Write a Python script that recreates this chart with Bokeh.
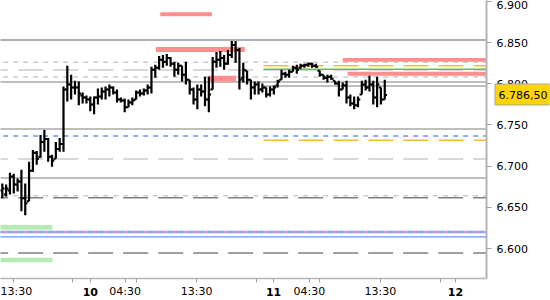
from bokeh.plotting import figure
from bokeh.models import Range1d, FixedTicker, NumeralTickFormatter, ColumnDataSource, LinearAxis
from bokeh.transform import dodge
from bokeh.embed import file_html
from bokeh.resources import INLINE

# ---------------- data ----------------
bar_idx = list(range(101))
high = [6.6790, 6.6778, 6.6922, 6.6910, 6.6850, 6.6958, 6.6790, 6.7054, 6.7198, 6.7186,
        6.7378, 6.7438, 6.7342, 6.7138, 6.7294, 6.7342, 6.7966, 6.8218, 6.8110, 6.8038,
        6.8026, 6.7894, 6.7858, 6.7846, 6.7846, 6.7942, 6.7954, 6.7966, 6.7990, 6.7966,
        6.7930, 6.7834, 6.7822, 6.7810, 6.7834, 6.7918, 6.7930, 6.7942, 6.7990, 6.8206,
        6.8230, 6.8338, 6.8350, 6.8362, 6.8326, 6.8266, 6.8254, 6.8218, 6.8266, 6.8050,
        6.7954, 6.7990, 6.7990, 6.8086, 6.8086, 6.8326, 6.8386, 6.8398, 6.8350, 6.8410,
        6.8518, 6.8518, 6.8434, 6.8254, 6.8158, 6.8050, 6.8026, 6.8026, 6.8002, 6.7954,
        6.7966, 6.7978, 6.8050, 6.8170, 6.8146, 6.8170, 6.8218, 6.8230, 6.8242, 6.8242,
        6.8254, 6.8254, 6.8242, 6.8158, 6.8110, 6.8110, 6.8110, 6.8038, 6.8038, 6.8014,
        6.8038, 6.7870, 6.7846, 6.7846, 6.8038, 6.8050, 6.8098, 6.8038, 6.8086, 6.7954,
        6.8050]
low = [6.6610, 6.6634, 6.6658, 6.6670, 6.6694, 6.6454, 6.6406, 6.6574, 6.6934, 6.7018,
       6.7102, 6.7174, 6.7054, 6.6994, 6.7090, 6.7174, 6.7174, 6.7786, 6.7810, 6.7870,
       6.7738, 6.7762, 6.7762, 6.7666, 6.7630, 6.7750, 6.7810, 6.7810, 6.7846, 6.7870,
       6.7774, 6.7774, 6.7654, 6.7714, 6.7738, 6.7810, 6.7846, 6.7858, 6.7870, 6.7882,
       6.8074, 6.8170, 6.8194, 6.8218, 6.8206, 6.8086, 6.8110, 6.8026, 6.7990, 6.7870,
       6.7750, 6.7690, 6.7846, 6.7726, 6.7654, 6.7930, 6.8194, 6.8206, 6.8170, 6.8230,
       6.8314, 6.8254, 6.7930, 6.8014, 6.7990, 6.7810, 6.7870, 6.7870, 6.7894, 6.7834,
       6.7846, 6.7870, 6.7954, 6.8050, 6.8074, 6.8074, 6.8146, 6.8122, 6.8182, 6.8194,
       6.8206, 6.8194, 6.8194, 6.8086, 6.8050, 6.8014, 6.8050, 6.7990, 6.7846, 6.7930,
       6.7762, 6.7726, 6.7690, 6.7714, 6.7870, 6.7918, 6.7906, 6.7750, 6.7714, 6.7750,
       6.7810]
opens = [6.6706, 6.6658, 6.6706, 6.6874, 6.6778, 6.6814, 6.6610, 6.6574, 6.6946, 6.7162,
         6.7114, 6.7294, 6.7330, 6.7114, 6.7090, 6.7210, 6.7270, 6.7930, 6.7990, 6.7954,
         6.7954, 6.7858, 6.7834, 6.7810, 6.7750, 6.7834, 6.7846, 6.7906, 6.7930, 6.7954,
         6.7894, 6.7810, 6.7798, 6.7714, 6.7774, 6.7810, 6.7894, 6.7882, 6.7918, 6.7954,
         6.8170, 6.8194, 6.8290, 6.8266, 6.8314, 6.8242, 6.8170, 6.8218, 6.8110, 6.8050,
         6.7930, 6.7810, 6.7930, 6.7906, 6.7810, 6.7930, 6.8266, 6.8290, 6.8314, 6.8242,
         6.8350, 6.8470, 6.8410, 6.8074, 6.8158, 6.8050, 6.7954, 6.7990, 6.7930, 6.7954,
         6.7870, 6.7930, 6.7978, 6.8050, 6.8122, 6.8110, 6.8146, 6.8194, 6.8194, 6.8218,
         6.8230, 6.8242, 6.8218, 6.8158, 6.8110, 6.8074, 6.8086, 6.8038, 6.8002, 6.7930,
         6.7978, 6.7834, 6.7762, 6.7738, 6.7870, 6.7990, 6.7954, 6.7990, 6.7834, 6.7954,
         6.7810]
closes = [6.6730, 6.6730, 6.6874, 6.6778, 6.6814, 6.6610, 6.6550, 6.6946, 6.7162, 6.7090,
          6.7294, 6.7330, 6.7114, 6.7066, 6.7210, 6.7270, 6.7930, 6.7990, 6.7954, 6.7954,
          6.7882, 6.7834, 6.7810, 6.7750, 6.7834, 6.7846, 6.7906, 6.7930, 6.7954, 6.7894,
          6.7810, 6.7798, 6.7714, 6.7774, 6.7798, 6.7894, 6.7882, 6.7918, 6.7954, 6.8170,
          6.8194, 6.8290, 6.8266, 6.8314, 6.8242, 6.8170, 6.8218, 6.8110, 6.8050, 6.7930,
          6.7810, 6.7930, 6.7906, 6.7810, 6.7870, 6.8266, 6.8290, 6.8314, 6.8242, 6.8350,
          6.8470, 6.8410, 6.8050, 6.8170, 6.8050, 6.7954, 6.7990, 6.7930, 6.7954, 6.7870,
          6.7930, 6.7954, 6.8026, 6.8122, 6.8110, 6.8146, 6.8194, 6.8170, 6.8218, 6.8230,
          6.8242, 6.8218, 6.8206, 6.8110, 6.8074, 6.8086, 6.8062, 6.8002, 6.7930, 6.7978,
          6.7834, 6.7762, 6.7738, 6.7810, 6.7990, 6.7954, 6.7990, 6.7834, 6.7990, 6.7810,
          6.7865]
last_price = 6.7865
last_price_text = "6.786,50"

# x-axis ticks (bar-index positions)
time_tick_pos = [2.82, 18.47, 32.14, 35.01, 50.80, 66.45, 80.28, 83.02, 98.85, 114.5]
time_tick_labels = ["13:30", "", "04:30", "", "13:30", "", "04:30", "", "13:30", ""]
day_tick_pos = [23.01, 70.94, 118.5]
day_tick_labels = ["10", "11", "12"]
y_ticks = [6.60, 6.65, 6.70, 6.75, 6.80, 6.85, 6.90]

# zones
pink_left = [41.3, 40.2, 53.8, 89.0, 90.3]
pink_right = [54.8, 63.4, 61.1, 140.0, 140.0]
pink_bottom = [6.8818, 6.8386, 6.8026, 6.8266, 6.8098]
pink_top = [6.8866, 6.8446, 6.8098, 6.8314, 6.8146]
green_left = [-5.0, -5.0]
green_right = [13.1, 13.1]
green_bottom = [6.6230, 6.5834]
green_top = [6.6286, 6.5890]

# levels
gray_solid_full = [6.8022, 6.7450, 6.6858]
gray_solid_top = [6.8530]
gray_solid_partial = [6.7974]
light_short_dash = [6.8262, 6.8082, 6.6642]
light_long_dash = [6.8166, 6.7086]
dark_long_dash = [6.6618, 6.5946]
blue_dash = [6.7366]
blue_solid = [6.6142]
pink_blue = [6.6202]
orange_dash = [6.8218, 6.7314]
green_solid = [6.8176]
partial_start = 68.3

X0, X1 = -0.47, 126.6
Y0, Y1 = 6.5638, 6.9010
FULL_L, FULL_R = -5.0, 140.0

p = figure(width=550, height=300, output_backend="svg", toolbar_location=None,
           x_range=Range1d(X0, X1), y_range=Range1d(Y0, Y1),
           y_axis_location="right", min_border_left=0, min_border_top=0,
           min_border_right=63, min_border_bottom=19)
p.outline_line_color = None
p.grid.visible = False
p.background_fill_color = "white"
p.border_fill_color = "white"

FONT = "DejaVu Sans"

def hlines(levels, color, width, dash="solid", start=FULL_L):
    src = ColumnDataSource(dict(y=levels, x0=[start] * len(levels), x1=[FULL_R] * len(levels)))
    p.segment(x0="x0", y0="y", x1="x1", y1="y", source=src, line_color=color,
              line_width=width, line_dash=dash)

p.quad(left=green_left, right=green_right, bottom=green_bottom, top=green_top,
       fill_color="#b5ebb3", line_color=None)

hlines(gray_solid_top, "#b0b0b0", 2)
hlines(gray_solid_full, "#a8a8a8", 1.5)
hlines(gray_solid_partial, "#a8a8a8", 1.5, start=partial_start)
hlines(light_short_dash, "#cccccc", 1.5, "5 5")
hlines(light_long_dash, "#cccccc", 1.5, "25 10")
hlines(dark_long_dash, "#808080", 1.5, "25 10")
hlines(blue_dash, "#6495ed", 1.5, "5 5")
hlines(blue_solid, "#6495ed", 1.2)
hlines(pink_blue, "#d6e6ff", 4)
hlines(pink_blue, "#6495ed", 1.5)
hlines(pink_blue, "#ff88c8", 1.5, "5 5")
hlines(orange_dash, "#ffb833", 1.5, "25 10", start=partial_start)
hlines(green_solid, "#66bb66", 1.5, start=partial_start)

p.quad(left=pink_left, right=pink_right, bottom=pink_bottom, top=pink_top,
       fill_color="#ff8f8f", line_color=None)

# OHLC bars
src = ColumnDataSource(dict(idx=bar_idx, high=high, low=low, open=opens, close=closes))
p.segment(x0="idx", y0="low", x1="idx", y1="high", source=src, line_color="black", line_width=2.2)
p.segment(x0=dodge("idx", -0.6), y0="open", x1="idx", y1="open", source=src,
          line_color="black", line_width=2)
p.segment(x0="idx", y0="close", x1=dodge("idx", 0.6), y1="close", source=src,
          line_color="black", line_width=2)

# axes
ya = p.yaxis[0]
ya.ticker = FixedTicker(ticks=y_ticks)
ya.formatter = NumeralTickFormatter(format="0.000")
ya.axis_line_color = "#b4b4b4"
ya.axis_line_width = 2
ya.major_tick_line_color = "#a0a0a0"
ya.major_tick_out = 5
ya.major_tick_in = 0
ya.minor_tick_line_color = None
ya.major_label_standoff = 5
ya.major_label_text_font = FONT
ya.major_label_text_font_size = "11px"
ya.major_label_text_color = "black"

xa = p.xaxis[0]
all_pos = time_tick_pos + day_tick_pos
xa.ticker = FixedTicker(ticks=all_pos)
xa.major_label_overrides = {**{pos: lab for pos, lab in zip(time_tick_pos, time_tick_labels)},
                            **{pos: "" for pos in day_tick_pos}}
xa.axis_line_color = "#b4b4b4"
xa.axis_line_width = 1.5
xa.major_tick_line_color = "#a0a0a0"
xa.major_tick_out = 4
xa.major_tick_in = 0
xa.minor_tick_line_color = None
xa.major_label_standoff = 2
xa.major_label_text_font = FONT
xa.major_label_text_font_size = "11px"
xa.major_label_text_color = "black"

# bold day labels: a second bottom axis whose labels are pulled up into the first row
day_axis = LinearAxis(ticker=FixedTicker(ticks=day_tick_pos),
                      major_label_overrides={pos: lab for pos, lab in zip(day_tick_pos, day_tick_labels)},
                      axis_line_color=None, major_tick_line_color=None, minor_tick_line_color=None,
                      major_tick_out=0, major_tick_in=0, major_label_standoff=-13,
                      major_label_text_font=FONT, major_label_text_font_size="11px",
                      major_label_text_font_style="bold", major_label_text_color="black")
p.add_layout(day_axis, "below")

# last-price tag on the right: border, yellow box and text drawn as extra right axes
tag_ticker = FixedTicker(ticks=[last_price])
tag_border = LinearAxis(ticker=tag_ticker, major_label_overrides={last_price: ""},
                        axis_line_color=None, minor_tick_line_color=None,
                        major_tick_line_color="#a8a8a8", major_tick_line_width=22,
                        major_tick_line_cap="butt",
                        major_tick_in=36, major_tick_out=19, major_label_standoff=0,
                        major_label_text_font_size="1px")
p.add_layout(tag_border, "right")
tag_fill = LinearAxis(ticker=tag_ticker, major_label_overrides={last_price: ""},
                      axis_line_color=None, minor_tick_line_color=None,
                      major_tick_line_color="#ffd400", major_tick_line_width=20,
                      major_tick_line_cap="butt",
                      major_tick_in=54, major_tick_out=0, major_label_standoff=0,
                      major_label_text_font_size="1px")
p.add_layout(tag_fill, "right")
tag_text = LinearAxis(ticker=tag_ticker, major_label_overrides={last_price: last_price_text},
                      axis_line_color=None, minor_tick_line_color=None, major_tick_line_color=None,
                      major_tick_in=0, major_tick_out=0, major_label_standoff=-51,
                      major_label_text_font=FONT, major_label_text_font_size="11px",
                      major_label_text_color="black")
p.add_layout(tag_text, "right")

open("out.html", "w").write(file_html(p, INLINE))
